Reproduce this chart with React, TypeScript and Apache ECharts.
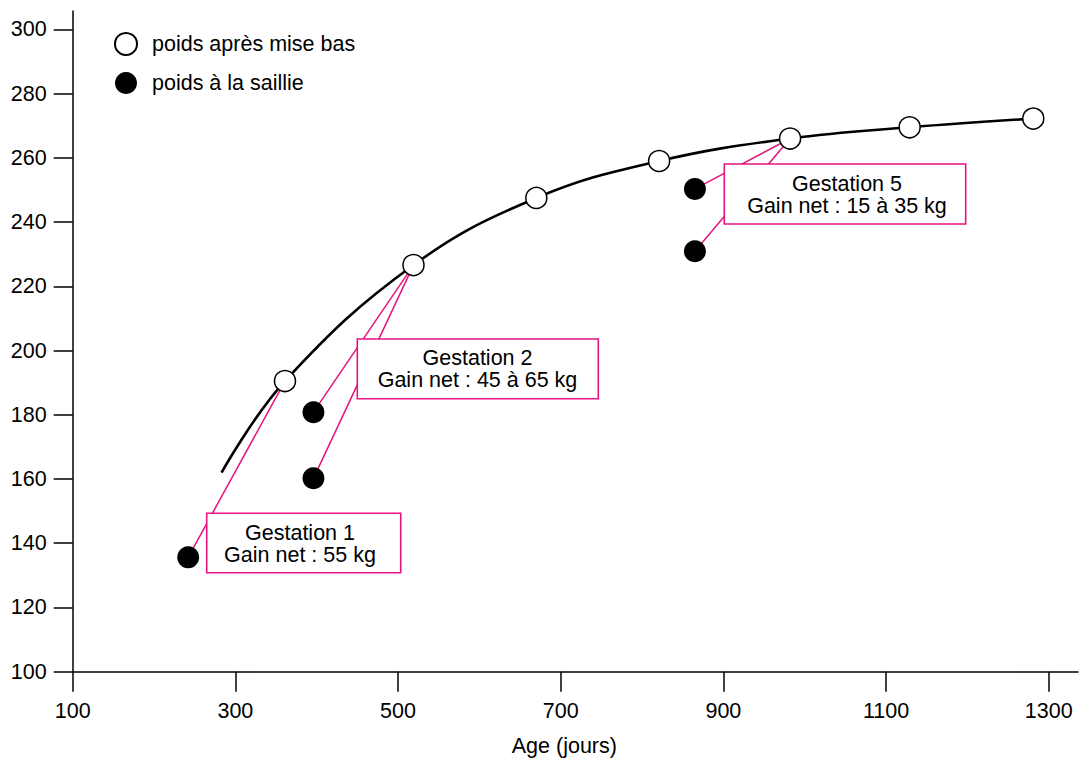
import React, { useEffect, useRef } from "react";
import * as echarts from "echarts";

// Open circles: weight after farrowing (poids après mise bas)
const agesMiseBas = [361, 519, 670, 821, 982, 1129, 1281];
const poidsMiseBas = [190.5, 226.6, 247.5, 259, 266, 269.5, 272.2];

// Filled circles: weight at mating (poids à la saillie)
const agesSaillie = [242, 396, 396, 865, 865];
const poidsSaillie = [135.6, 180.8, 160.2, 250.3, 230.9];

// Growth curve
const curveAges = [283, 361, 519, 670, 821, 982, 1129, 1281];
const curvePoids = [162, 190.5, 226.6, 247.5, 259, 266, 269.5, 272.2];

// connectors: [index in saillie, index in mise bas]
const connectorPairs = [
  [0, 0],
  [1, 1],
  [2, 1],
  [3, 4],
  [4, 4],
];

const xTicks = [100, 300, 500, 700, 900, 1100, 1300];
const yTicks = [100, 120, 140, 160, 180, 200, 220, 240, 260, 280, 300];

const annotationTitles = ["Gestation 1", "Gestation 2", "Gestation 5"];
const annotationGains = ["Gain net : 55 kg", "Gain net : 45 à 65 kg", "Gain net : 15 à 35 kg"];

const FONT = "'Liberation Sans', Arial, Helvetica, sans-serif";
const FS = 21.5;
const PINK = "#e5137f";

export default function App() {
  const ref = useRef<HTMLDivElement>(null);

  useEffect(() => {
    document.body.style.margin = "0";
    if (!ref.current) return;
    const chart = echarts.init(ref.current, undefined, { renderer: "svg" });

    const boxes = [
      { x: 206.7, y: 513.3, w: 194, h: 59.4, cx: 300 },
      { x: 357.3, y: 339, w: 241, h: 59.7, cx: 477.5 },
      { x: 724.3, y: 164, w: 241.4, h: 60, cx: 847 },
    ];

    const graphic: any[] = [];
    boxes.forEach((b, i) => {
      const mid = b.y + b.h / 2;
      graphic.push({
        type: "rect",
        z: 50,
        shape: { x: b.x, y: b.y, width: b.w, height: b.h },
        style: { fill: "#fff", stroke: PINK, lineWidth: 1.6 },
      });
      graphic.push({
        type: "text",
        z: 51,
        x: b.cx,
        y: mid - 10.5,
        style: {
          text: annotationTitles[i],
          fill: "#000",
          font: `${FS}px ${FONT}`,
          align: "center",
          verticalAlign: "middle",
        },
      });
      graphic.push({
        type: "text",
        z: 51,
        x: b.cx,
        y: mid + 11.5,
        style: {
          text: annotationGains[i],
          fill: "#000",
          font: `${FS}px ${FONT}`,
          align: "center",
          verticalAlign: "middle",
        },
      });
    });

    const option: any = {
      animation: false,
      backgroundColor: "#fff",
      textStyle: { fontFamily: FONT },
      grid: {
        left: 72.7,
        top: 11,
        right: 1,
        bottom: 87.3,
        containLabel: false,
        outerBoundsMode: "none",
      },
      legend: {
        orient: "vertical",
        left: 114,
        top: 32,
        padding: 0,
        itemWidth: 22,
        itemHeight: 22,
        itemGap: 16,
        icon: "circle",
        data: ["poids après mise bas", "poids à la saillie"],
        textStyle: {
          fontSize: FS,
          fontFamily: FONT,
          color: "#000",
          padding: [0, 0, 0, 10],
        },
      },
      xAxis: {
        type: "value",
        min: 100,
        max: 1336,
        name: "Age (jours)",
        nameLocation: "middle",
        nameGap: 63,
        nameTextStyle: {
          fontSize: FS,
          fontFamily: FONT,
          color: "#000",
          padding: [0, 22, 0, 0],
        },
        splitLine: { show: false },
        axisLine: { show: true, lineStyle: { color: "#000", width: 1.5 } },
        axisTick: {
          show: true,
          length: 20,
          customValues: xTicks,
          lineStyle: { color: "#000", width: 1.5 },
        },
        axisLabel: {
          customValues: xTicks,
          margin: 28,
          fontSize: FS,
          fontFamily: FONT,
          color: "#000",
          formatter: (v: number) => String(v),
        },
      },
      yAxis: {
        type: "value",
        min: 100,
        max: 305.7,
        splitLine: { show: false },
        axisLine: { show: true, lineStyle: { color: "#000", width: 1.5 } },
        axisTick: {
          show: true,
          length: 19,
          customValues: yTicks,
          lineStyle: { color: "#000", width: 1.5 },
        },
        axisLabel: {
          customValues: yTicks,
          margin: 26,
          fontSize: FS,
          fontFamily: FONT,
          color: "#000",
          formatter: (v: number) => String(v),
        },
      },
      series: [
        {
          type: "lines",
          name: "connecteurs",
          coordinateSystem: "cartesian2d",
          z: 30,
          silent: true,
          lineStyle: { color: PINK, width: 1.5, opacity: 1 },
          data: connectorPairs.map(([s, m]) => ({
            coords: [
              [agesSaillie[s], poidsSaillie[s]],
              [agesMiseBas[m], poidsMiseBas[m]],
            ],
          })),
        },
        {
          type: "line",
          name: "courbe",
          z: 40,
          smooth: 0.4,
          showSymbol: false,
          symbol: "none",
          lineStyle: { color: "#000", width: 2.6 },
          data: curveAges.map((a, i) => [a, curvePoids[i]]),
        },
        {
          type: "scatter",
          name: "poids après mise bas",
          z: 60,
          symbol: "circle",
          symbolSize: 21,
          itemStyle: { color: "#fff", borderColor: "#000", borderWidth: 1.5, opacity: 1 },
          data: agesMiseBas.map((a, i) => [a, poidsMiseBas[i]]),
        },
        {
          type: "scatter",
          name: "poids à la saillie",
          z: 60,
          symbol: "circle",
          symbolSize: 22,
          itemStyle: { color: "#000", borderColor: "#000", borderWidth: 0, opacity: 1 },
          data: agesSaillie.map((a, i) => [a, poidsSaillie[i]]),
        },
      ],
      graphic,
    };

    chart.setOption(option);
    return () => chart.dispose();
  }, []);

  return <div ref={ref} style={{ width: 1079, height: 759 }} />;
}
